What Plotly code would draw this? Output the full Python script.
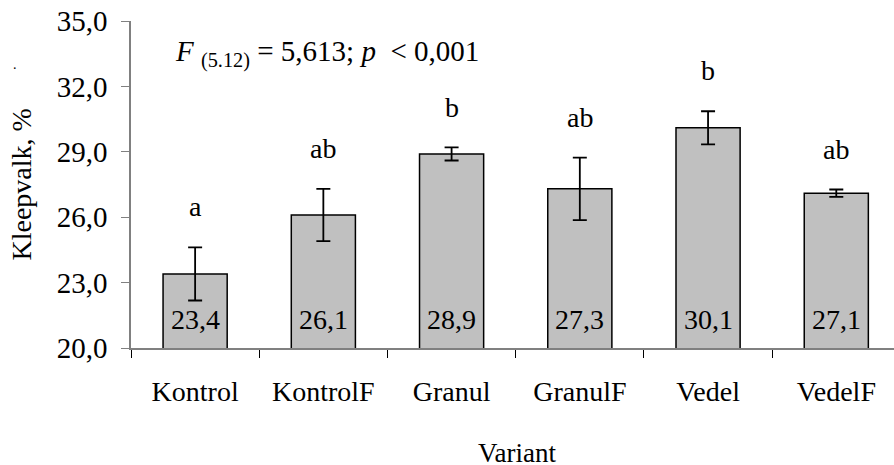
import plotly.graph_objects as go

variants = ["Kontrol", "KontrolF", "Granul", "GranulF", "Vedel", "VedelF"]
means = [23.4, 26.1, 28.9, 27.3, 30.1, 27.1]
errors = [1.22, 1.2, 0.3, 1.43, 0.76, 0.17]
letters = ["a", "ab", "b", "ab", "b", "ab"]

FONT = "Liberation Serif"
AXIS_GREY = "#808080"

fig = go.Figure()

fig.add_trace(go.Bar(
    x=variants,
    y=means,
    marker=dict(color="#c0c0c0", line=dict(color="black", width=1.5)),
    error_y=dict(type="data", array=errors, color="black", thickness=1.8, width=7),
    showlegend=False,
))

# values written at the bottom of each bar
for name, m in zip(variants, means):
    fig.add_annotation(x=name, y=20, yshift=29, text=f"{m:.1f}".replace(".", ","),
                       showarrow=False, yanchor="middle",
                       font=dict(family=FONT, size=28, color="black"))

# significance letters above the error bars
for name, m, e, letter in zip(variants, means, errors, letters):
    fig.add_annotation(x=name, y=m + e + 1.85, text=letter, showarrow=False,
                       font=dict(family=FONT, size=28, color="black"),
                       yanchor="middle")

fig.add_annotation(xref="paper", yref="paper", x=0.055, y=0.9,
                   text="<i>F</i> <sub>(5.12)</sub> = 5,613; <i>p</i>  < 0,001",
                   showarrow=False, xanchor="left", yanchor="middle",
                   font=dict(family=FONT, size=29, color="black"))

fig.add_annotation(xref="paper", yref="paper", x=0, y=0.5, xshift=-110,
                   text="Kleepvalk, %", textangle=-90, showarrow=False,
                   xanchor="center", yanchor="middle",
                   font=dict(family=FONT, size=28, color="black"))

fig.add_annotation(xref="paper", yref="paper", x=0, y=0.86, xshift=-120, yshift=12,
                   text=".", showarrow=False,
                   font=dict(family=FONT, size=14, color="black"))

fig.add_annotation(xref="paper", yref="paper", x=(517 - 131) / 763, y=0, yshift=-105,
                   text="Variant", showarrow=False,
                   xanchor="center", yanchor="middle",
                   font=dict(family=FONT, size=27, color="black"))

fig.update_layout(
    width=894, height=465,
    margin=dict(l=131, r=0, t=21, b=117),
    plot_bgcolor="white", paper_bgcolor="white",
    separators=", ",
    bargap=0.5,
    font=dict(family=FONT, size=28, color="black"),
    xaxis=dict(range=[-0.5, 5.45], automargin=False, showline=True,
               linecolor=AXIS_GREY, linewidth=1.5,
               ticks="outside", tickson="boundaries", ticklen=8, tickcolor="black",
               tickwidth=1, ticklabelstandoff=18, showgrid=False,
               tickfont=dict(family=FONT, size=28, color="black")),
    yaxis=dict(range=[20, 35], dtick=3, tick0=20, tickformat=".1f", automargin=False,
               showline=True, linecolor=AXIS_GREY, linewidth=1.5,
               ticks="outside", ticklen=8, tickcolor=AXIS_GREY, tickwidth=1,
               ticklabelstandoff=8, showgrid=False, zeroline=False,
               tickfont=dict(family=FONT, size=29, color="black")),
)

# drop the browser's default body margin so the chart sits at the page corner
fig.write_html("out.html", config={"displayModeBar": False},
               post_script="document.body.style.margin = '0';")
